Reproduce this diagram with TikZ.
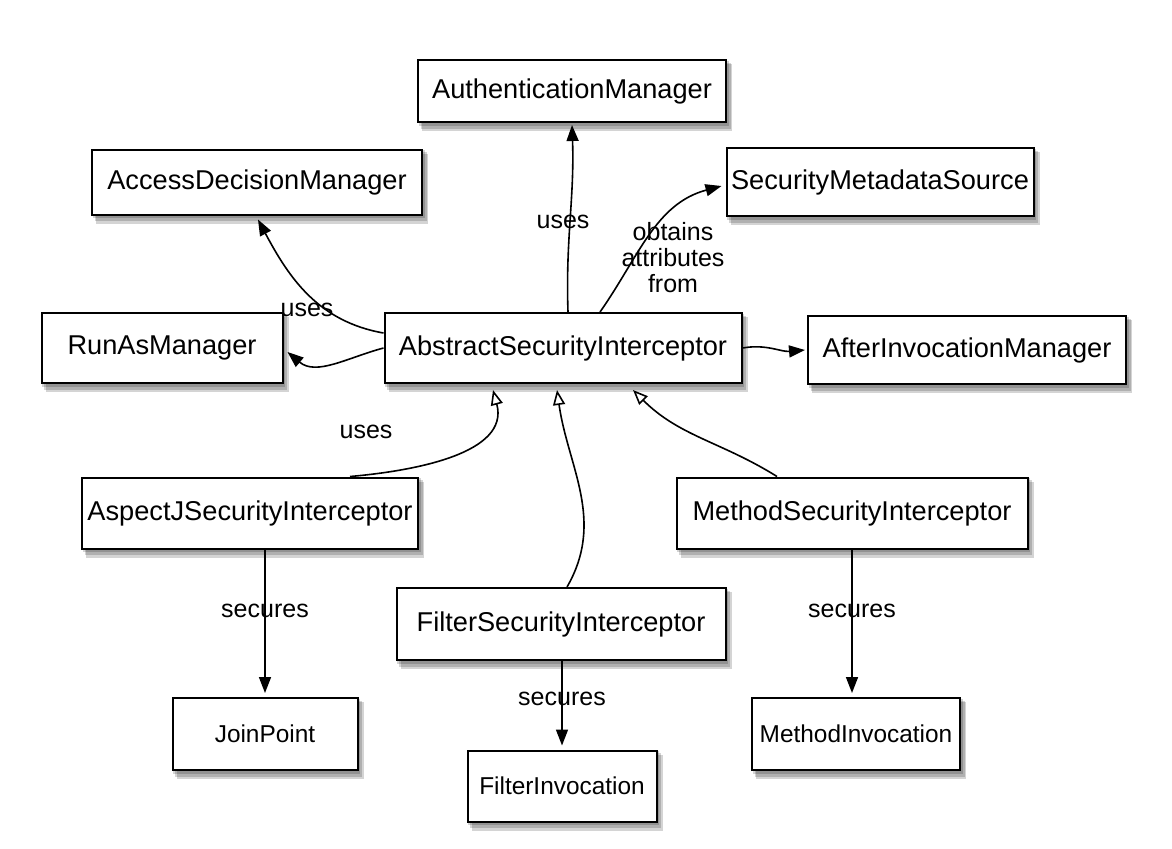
\documentclass[tikz,border=0pt]{standalone}
\usepackage{fontspec}
\setmainfont{Liberation Sans}
\usetikzlibrary{arrows.meta,backgrounds}

\tikzset{
  cls/.style={draw, line width=1pt, fill=white, inner sep=0pt,
    font=\fontsize{13.6}{16}\selectfont},
  smallcls/.style={cls, font=\fontsize{12.2}{14}\selectfont},
  lbl/.style={font=\fontsize{12.5}{13}\selectfont, align=center, inner sep=1pt},
  shade/.style={fill=black, fill opacity=.17},
  uses/.style={line width=.8pt, -{Triangle[length=8pt,width=6pt]}},
  extends/.style={line width=.8pt, -{Triangle[open,length=7.5pt,width=6pt]}}
}

\begin{document}
\begin{tikzpicture}[x=0.5pt, y=0.5pt]
		\useasboundingbox (0,0) rectangle (1172,-848);
		% Classes
		\node[cls, minimum width=154pt, minimum height=31pt] (authMgr) at (572,-91) {AuthenticationManager};
		\node[cls, minimum width=165pt, minimum height=32.5pt] (accessMgr) at (257,-182) {AccessDecisionManager};
		\node[cls, minimum width=153.5pt, minimum height=34pt] (metaSrc) at (880,-182) {SecurityMetadataSource};
		\node[cls, minimum width=120.5pt, minimum height=35pt] (runAsMgr) at (162,-348) {RunAsManager};
		\node[cls, minimum width=178.5pt, minimum height=35pt] (absInt) at (563,-348) {AbstractSecurityInterceptor};
		\node[cls, minimum width=159pt, minimum height=34pt] (afterMgr) at (967,-350) {AfterInvocationManager};
		\node[cls, minimum width=168pt, minimum height=35.5pt] (aspectInt) at (250,-513) {AspectJSecurityInterceptor};
		\node[cls, minimum width=175.5pt, minimum height=35.5pt] (methodInt) at (852,-513) {MethodSecurityInterceptor};
		\node[cls, minimum width=164.5pt, minimum height=36pt] (filterInt) at (561,-624) {FilterSecurityInterceptor};
		\node[smallcls, minimum width=92.5pt, minimum height=36pt] (joinPt) at (265,-734) {JoinPoint};
		\node[smallcls, minimum width=104pt, minimum height=36pt] (methodInv) at (856,-734) {MethodInvocation};
		\node[smallcls, minimum width=94.5pt, minimum height=35.5pt] (filterInv) at (562,-786) {FilterInvocation};
		
		% Shadows
		\begin{pgfonlayer}{background}
		\foreach \n in {authMgr,accessMgr,metaSrc,runAsMgr,absInt,afterMgr,aspectInt,methodInt,filterInt,joinPt,methodInv,filterInv}
		  \foreach \s in {1,2,3}
		    \fill[shade] ([shift={(\s*0.9pt,-\s*1.4pt)}]\n.south west) rectangle ([shift={(\s*0.9pt,-\s*0.9pt)}]\n.north east);
		\end{pgfonlayer}
		
		% Associations
		\draw[uses] ([yshift=7.5pt]absInt.west) to[out=170, in=-62] ([xshift=0.5pt, yshift=-2pt]accessMgr.south);
		\draw[uses] (absInt.west) to[out=195, in=-40] ([xshift=2pt, yshift=-2pt]runAsMgr.east);
		\draw[uses] ([xshift=2.5pt]absInt.north) to[out=92, in=-88] ([yshift=-1pt]authMgr.south);
		\draw[uses] ([xshift=18.5pt]absInt.north) to[out=55, in=195] ([xshift=-2pt, yshift=-2pt]metaSrc.west);
		\draw[uses] (absInt.east) to[out=10, in=185] ([xshift=-1pt]afterMgr.west);
		\node[lbl] (usesAccess) at (307,-310) {uses};
		\node[lbl] (usesAuth) at (563,-222) {uses};
		\node[lbl] (obtains) at (673,-258) {obtains\\attributes\\from};
		\node[lbl] (usesAspect) at (366,-432) {uses};
		
		% Inheritance
		\draw[extends] ([xshift=50pt]aspectInt.north) to[out=5, in=-75] ([xshift=-35pt, yshift=-3pt]absInt.south);
		\draw[extends] ([xshift=3pt]filterInt.north) to[out=60, in=-82] ([xshift=-3pt, yshift=-3pt]absInt.south);
		\draw[extends] ([xshift=-37.5pt]methodInt.north) to[out=148, in=-45] ([xshift=35pt, yshift=-3pt]absInt.south);
		
		% Secures
		\draw[uses] (aspectInt.south -| joinPt.north) -- ([yshift=2pt]joinPt.north) node[lbl, pos=0.43] (secJoin) {secures};
		\draw[uses] (filterInt.south -| filterInv.north) -- ([yshift=2pt]filterInv.north) node[lbl, pos=0.45] (secFilter) {secures};
		\draw[uses] (methodInt.south) -- ([yshift=2pt]methodInt.south |- methodInv.north) node[lbl, pos=0.43] (secMethod) {secures};
	\end{tikzpicture}
\end{document}
